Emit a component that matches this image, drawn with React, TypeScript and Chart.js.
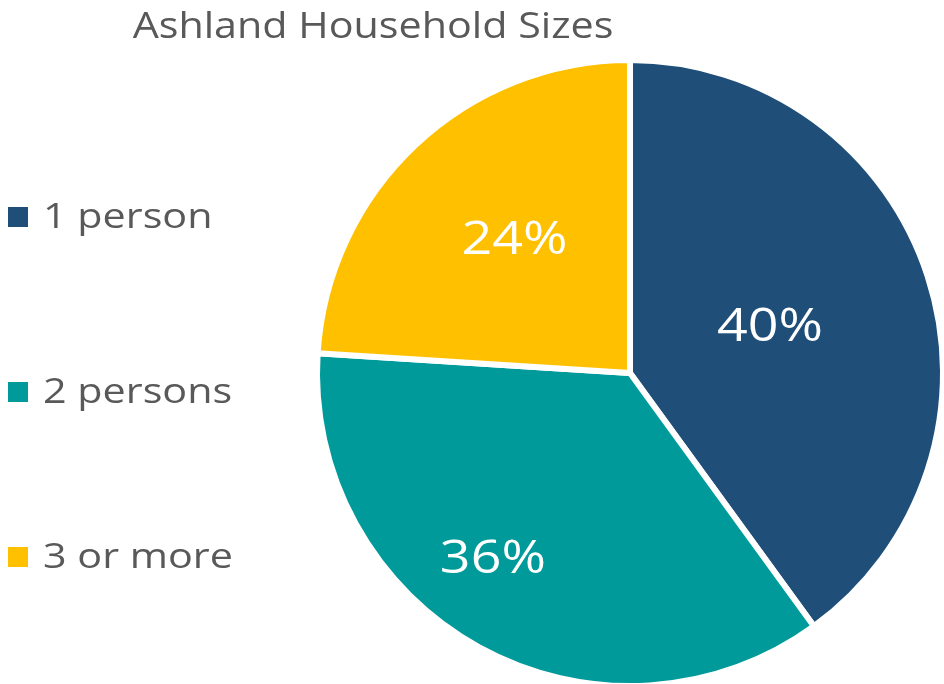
import React, { useEffect, useRef } from "react";
import { Chart, registerables } from "chart.js";

Chart.register(...registerables);

const title = "Ashland Household Sizes";
const categories = ["1 person", "2 persons", "3 or more"];
const shares = [40, 36, 24];
const colors = ["#1F4E79", "#009A9A", "#FFC000"];
// label placement tweaks (fraction of radius, angle offset in degrees)
const labelRadius = [0.47, 0.74, 0.56];
const labelAngleShift = [0, 7.5, 2];

const FONT = "'Open Sans', Lato, sans-serif";
const TEXT_GRAY = "#595959";

function stretchedText(ctx: CanvasRenderingContext2D, text: string, x: number, y: number, sx: number) {
  ctx.save();
  ctx.translate(x, y);
  ctx.scale(sx, 1);
  ctx.fillText(text, 0, 0);
  ctx.restore();
}

const overlayPlugin = {
  id: "overlay",
  afterDraw(chart: any) {
    const ctx = chart.ctx as CanvasRenderingContext2D;
    ctx.save();
    // title
    ctx.fillStyle = TEXT_GRAY;
    ctx.font = `37px ${FONT}`;
    ctx.textAlign = "center";
    ctx.textBaseline = "alphabetic";
    stretchedText(ctx, title, 373, 38, 1.115);

    // legend
    const legendY = [217, 392, 557];
    ctx.font = `35px ${FONT}`;
    ctx.textAlign = "left";
    ctx.textBaseline = "middle";
    categories.forEach((c, i) => {
      ctx.fillStyle = colors[i];
      ctx.fillRect(8, legendY[i] - 10, 20, 20);
      ctx.fillStyle = TEXT_GRAY;
      stretchedText(ctx, c, 43, legendY[i] + 1, 1.18);
    });

    // data labels
    const meta = chart.getDatasetMeta(0);
    ctx.fillStyle = "#FFFFFF";
    ctx.font = `46px ${FONT}`;
    ctx.textAlign = "center";
    ctx.textBaseline = "middle";
    meta.data.forEach((arc: any, i: number) => {
      const p = arc.getProps(["x", "y", "startAngle", "endAngle", "outerRadius"], true);
      const mid = (p.startAngle + p.endAngle) / 2 + (labelAngleShift[i] * Math.PI) / 180;
      const r = p.outerRadius * labelRadius[i];
      stretchedText(ctx, `${shares[i]}%`, p.x + Math.cos(mid) * r, p.y + Math.sin(mid) * r, 1.17);
    });
    ctx.restore();
  },
};

export default function App() {
  const ref = useRef<HTMLCanvasElement>(null);
  useEffect(() => {
    document.body.style.margin = "0";
    document.body.style.overflow = "hidden";
    const chart = new Chart(ref.current as HTMLCanvasElement, {
      type: "pie",
      data: {
        labels: categories,
        datasets: [
          {
            data: shares,
            backgroundColor: colors,
            borderColor: "#FFFFFF",
            borderWidth: 6,
          },
        ],
      },
      options: {
        responsive: false,
        animation: false,
        layout: { padding: { left: 314, right: 14, top: 57, bottom: 11 } },
        plugins: {
          legend: { display: false },
          title: { display: false },
          tooltip: { enabled: false },
        },
      },
      plugins: [overlayPlugin],
    });
    return () => chart.destroy();
  }, []);
  return (
    <div
      style={{
        position: "absolute",
        left: 0,
        top: 0,
        width: 944,
        height: 684,
        overflow: "hidden",
        background: "#fff",
      }}
    >
      <canvas ref={ref} width={960} height={700} style={{ display: "block" }} />
    </div>
  );
}
